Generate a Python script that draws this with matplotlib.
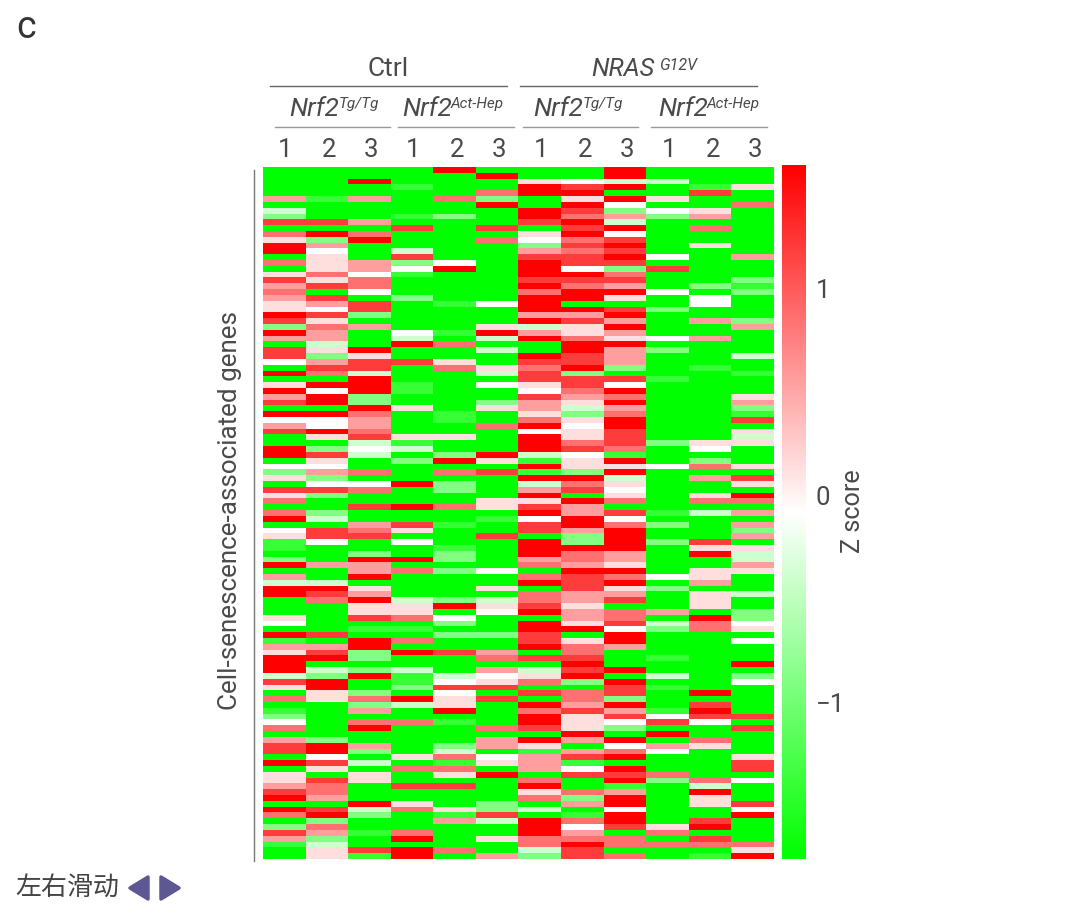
import numpy as np
import matplotlib
matplotlib.use("Agg")
import matplotlib.pyplot as plt
from matplotlib.colors import LinearSegmentedColormap
from matplotlib.lines import Line2D
from matplotlib.patches import Polygon

# Z-score classes, one letter per cell
z_levels = {'G': -1.76, 'g': -1.4, 'h': -0.9, 'l': -0.4, 'w': -0.08,
            'p': 0.13, 'q': 0.55, 'r': 0.85, 's': 1.2, 'R': 1.60}

rows_a = """GGGGRGGGRGGG GGGGGRGGRGGG GGRGGGpwllGG GGGgGGRsRGgp GGGGGrRRGGsG qgqGrhGpRpGG
GGGGGRGRwGGr lGGGGGRshwpG hGGghGRrqhqG ssqGGGsRlGGG GGGsGsGsRGrG rRrGGGpRwGGG
phRGGrwrsGGG RqGGGGhsRGpG RwGlGGqrsGGG GpGsGGssRwGq rpqhwGRssGGG GpqwRGRwhsGG
prwgGGRRrGGG sprGGGsssGGh qsrGGGRrqGhg rGwGGGrRRwGh qsGhGGRRpGwG pqsGgwRGGGwG
pwsGGGRRshGG RshGGGqqRGGG spGGGGRsqGqh hrqGGplpRGGq RqGwgRqpqGGG qqGlGlRrpwqG""".split()
rows_b = """GlGRrGGRRGGG spRGGlGRqhGG shpGGGRsqGGl wqsspGssqGGG GssGrprRhGgG RrlGGlshGGGg
GGRGGGsssgGG pRRgGwpswGGG RwRgGGwrRGGG qRhGGGsqrGGp sRhGGhqpRGGq GGRpGpqlqGGh
RRrGgGphrGGg wwqGgGrpRGGs qwqGGrRwRGGG sRrGGGwpsGGp GpsppGRpsGGl GGlgGGRrshpp
RhwlGGRsrGwG RslGhRlwgGGG GpGhRpgpRGhG wwGGGGRppwrp hqrGrsghRGGG phGGGGRRlGqs
GwwRhGlrpGGp ssrGhGqswGGG phGGGGRGpGpR rGGGGppRrGrr GGsRrpsqGGGG rhGGGGRqsglq""".split()
rows_c = """RlGGGgwRwGGG GGqsgGsRrhGq wsrpGGsqRGGh pssGGsGhRGGq gwGwGGRhRhsG gGGGgGRRRGpp
GGhGhGRrqGRl hGRRhGqrqGGl RqqGGGrqpGGq GGqrhwGRRGpp qGRGGGrsrwpG llGGGGRsRGqG
RRpGGpGsphGG RsqGGGrqqGpl GrRlhlrqsGpG GGppRpspGGpG GGppGwRqrqGh pGsrwGGqrGRh
wGGGhGRpslrw GGggGGRRwhrp RsGGhhsGRGGG gGRrGGspRGGw qqRGGGRrqGGG pshRsqGrGGGG
RRhGGrssGgGG RGGGGGGRGGGR RlhlGqlsRGGG lhRglwpRGlGh sRGgwprhRGGw""".split()
rows_d = """pRGhssGGsgGG GphGwGsrsGRG rprRpsGrhGGG GGhlpGRqRGsG gGqGRGrsqgRG hGGGGGRpswss
wGrrgGRpwswG rGRGGrsphGGs GGGGGGGRGRGG qhGGGqRqRGrG sRqGhqpGwqpG sRhGlGgqrwGG
GwGprwqsRGGp RslGgpqgGGGs GpGrrGqwRGGs pGpGpRGssrGG pspGGGrGRhrw qrGssGRGgGlG
srGGGGprqGRG RqGGGGrhRGpG GGRpGhGqRGps RslrphlGwGGw rRhGgsGgRGGR GhGGqlRrRGsG
hrGGGGRwspRG sqgrGGRqGrGG qhGRGprrrGsG glGGGGrRrrrr GpsRrGlsGGGp GpgRGqhsrGgR""".split()

sample_labels = ['1', '2', '3'] * 4
cbar_ticks = [1, 0, -1]
cbar_tick_labels = ['1', '0', '\u22121']
z_min, z_max = -1.76, 1.60

matrix = np.array([[z_levels[c] for c in row] for row in rows_a + rows_b + rows_c + rows_d])

W, H = 1080, 918
plt.rcParams['font.family'] = ['Roboto', 'Noto Sans CJK SC', 'DejaVu Sans']
TXT = '#4a4a4a'
fig = plt.figure(figsize=(W / 100, H / 100), dpi=100, facecolor='white')


def box(x0, y0, x1, y1):
    return [x0 / W, 1 - y1 / H, (x1 - x0) / W, (y1 - y0) / H]


def put(x, y, s, size, **kw):
    kw.setdefault('color', TXT)
    kw.setdefault('ha', 'center')
    kw.setdefault('va', 'center')
    return fig.text(x / W, 1 - y / H, s, fontsize=size, **kw)


def rule(x0, x1, y, color, lw=1.0):
    fig.add_artist(Line2D([x0 / W, x1 / W], [1 - y / H, 1 - y / H], color=color, lw=lw))


cmap = LinearSegmentedColormap.from_list('gwr', ['#00ff00', '#ffffff', '#ff0000'])

ax = fig.add_axes(box(263, 167, 774, 859))
im = ax.imshow(matrix, cmap=cmap, vmin=z_min, vmax=z_max, aspect='auto', interpolation='nearest')
ax.axis('off')

cax = fig.add_axes(box(782, 165, 806, 859))
cb = fig.colorbar(im, cax=cax)
cb.outline.set_visible(False)
cb.set_ticks(cbar_ticks)
cb.set_ticklabels(cbar_tick_labels)
cax.tick_params(length=0, pad=7, labelsize=18.5, labelcolor=TXT)

put(853, 511, 'Z score', 18.2, rotation=90)
put(230, 510, 'Cell-senescence-associated genes', 18.7, rotation=90)
fig.add_artist(Line2D([254 / W, 254 / W], [1 - 170 / H, 1 - 861 / H], color='#777777', lw=1.0))

# Sample numbers
for x, s in zip([285, 329, 371, 413, 457, 499, 541, 585, 627, 669, 713, 755], sample_labels):
    put(x, 150, s, 18.5)

# Top group headers
put(388, 69, 'Ctrl', 19)
put(591, 69, 'NRAS', 18.3, ha='left', style='italic')
put(659, 65, 'G12V', 11.5, ha='left', style='italic')
rule(270, 507, 86, '#666666')
rule(520, 757, 86, '#666666')

# Genotype headers
for xn, xs, sup in [(289, 339, 'Tg/Tg'), (402, 451, 'Act-Hep'),
                    (533, 583, 'Tg/Tg'), (658, 707, 'Act-Hep')]:
    put(xn, 109, 'Nrf2', 18.8, ha='left', style='italic')
    put(xs, 104, sup, 11, ha='left', style='italic')
for x0, x1 in [(275, 390), (398, 514), (523, 638), (651, 767)]:
    rule(x0, x1, 126.5, '#999999')

put(16, 27, 'c', 27, ha='left', color='#333333')
put(15, 888, '左右滑动', 18.7, ha='left', color='#444444', family=['Noto Sans CJK SC', 'DejaVu Sans'])

for pts in ([(130, 888), (148, 877), (148, 899)], [(161, 877), (179, 888), (161, 899)]):
    fig.add_artist(Polygon([(x / W, 1 - y / H) for x, y in pts], closed=True, transform=fig.transFigure,
                           facecolor='#5d5794', edgecolor='#5d5794', lw=2.5, joinstyle='round'))

fig.savefig('out.png', dpi=100)
